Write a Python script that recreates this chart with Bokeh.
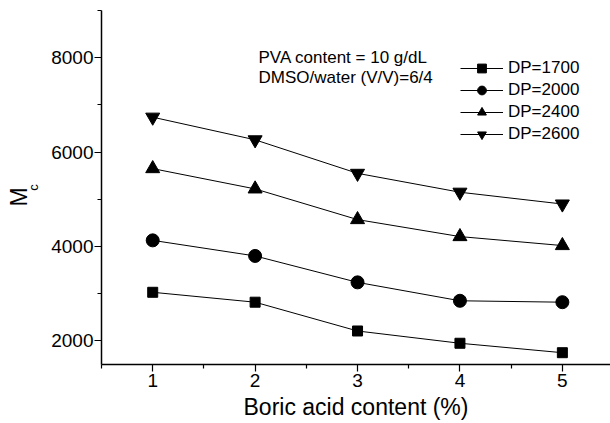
from bokeh.plotting import figure
from bokeh.models import Range1d, Label, Legend, LegendItem, FixedTicker, Title
from bokeh.embed import file_html
from bokeh.resources import INLINE

boric = [1, 2, 3, 4, 5]
x_ticks = [1, 2, 3, 4, 5]
y_ticks = [2000, 4000, 6000, 8000]
dp_labels = ["DP=1700", "DP=2000", "DP=2400", "DP=2600"]
mc_1700 = [3030, 2820, 2210, 1950, 1750]
mc_2000 = [4130, 3800, 3240, 2850, 2820]
mc_2400 = [5650, 5220, 4570, 4210, 4020]
mc_2600 = [6740, 6260, 5550, 5150, 4900]
series = [mc_1700, mc_2000, mc_2400, mc_2600]
markers = ["square", "circle", "triangle", "inverted_triangle"]
sizes = [10, 13, 14, 14]

FONT = "'Liberation Sans', Arial, sans-serif"

p = figure(width=610, height=423, output_backend="svg", toolbar_location=None,
           x_range=Range1d(0.5, 5.47), y_range=Range1d(1500, 9000),
           min_border_left=101, min_border_right=0, min_border_top=10,
           min_border_bottom=59)
p.background_fill_color = "white"
p.border_fill_color = "white"
p.outline_line_color = None
p.grid.visible = False

p.xaxis.ticker = FixedTicker(ticks=x_ticks, minor_ticks=[0.5, 1.5, 2.5, 3.5, 4.5, 5.5])
p.yaxis.ticker = FixedTicker(ticks=y_ticks, minor_ticks=[3000, 5000, 7000, 9000])
for ax in (p.xaxis, p.yaxis):
    ax.axis_line_width = 1.5
    ax.major_tick_line_width = 1.2
    ax.minor_tick_line_width = 1.2
    ax.major_tick_out = 7
    ax.major_tick_in = 0
    ax.minor_tick_out = 4
    ax.minor_tick_in = 0
    ax.major_label_text_font = FONT
    ax.major_label_text_font_size = "19px"
    ax.major_label_text_color = "black"
    ax.axis_line_color = "black"
    ax.major_tick_line_color = "black"
    ax.minor_tick_line_color = "black"
    ax.axis_label_text_font = FONT
    ax.axis_label_text_font_style = "normal"
    ax.axis_label_text_color = "black"
p.yaxis.major_label_standoff = 1
p.xaxis.major_label_standoff = 2
p.xaxis.axis_label = "Boric acid content (%)"
p.xaxis.axis_label_text_font_size = "23px"
p.xaxis.axis_label_standoff = 4
# subscript "c" of M_c as the y-axis label, "M" as an outer title
p.yaxis.axis_label = "c"
p.yaxis.axis_label_text_font_size = "13px"
p.yaxis.axis_label_standoff = 7

items = []
for lab, vals, m, s in zip(dp_labels, series, markers, sizes):
    lr = p.line(boric, vals, line_color="black", line_width=1)
    sr = p.scatter(boric, vals, marker=m, size=s, fill_color="black",
                   line_color="black", line_width=1)
    items.append(LegendItem(label=lab, renderers=[lr, sr]))

legend = Legend(items=items, location=(359, 219), border_line_color=None,
                background_fill_alpha=0, padding=0, margin=0, spacing=0,
                glyph_width=43, glyph_height=22, label_height=22, label_standoff=5,
                label_text_font=FONT, label_text_font_size="17px",
                label_text_color="black")
p.add_layout(legend)

p.add_layout(Title(text="M", align="left", offset=158, text_font=FONT,
                   text_font_size="23px", text_font_style="normal",
                   text_color="black", standoff=-17), "left")

p.add_layout(Label(x=157, y=307, x_units="screen", y_units="screen",
                   text="PVA content = 10 g/dL", text_align="left",
                   text_baseline="middle", text_font=FONT, text_font_size="17px",
                   text_color="black"))
p.add_layout(Label(x=157, y=287, x_units="screen", y_units="screen",
                   text="DMSO/water (V/V)=6/4", text_align="left",
                   text_baseline="middle", text_font=FONT, text_font_size="17px",
                   text_color="black"))

open("out.html", "w").write(file_html(p, INLINE))
